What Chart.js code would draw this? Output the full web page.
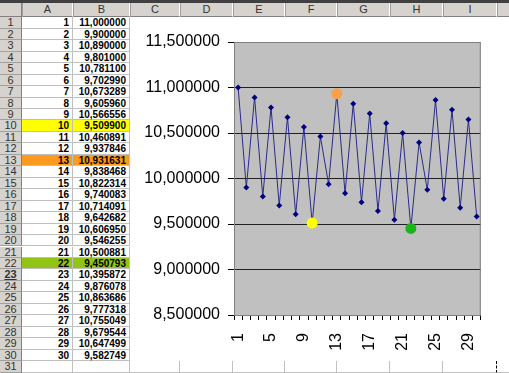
<!DOCTYPE html>
<html>
<head>
<meta charset="utf-8">
<script src="https://cdn.jsdelivr.net/npm/chart.js@4.4.0/dist/chart.umd.min.js"></script>
<style>
  html, body { margin: 0; padding: 0; background: #fff; overflow: hidden; }
  #sheet { position: relative; width: 509px; height: 373px; font-family: "Liberation Sans", Arial, sans-serif; }
  .hdr { position: absolute; background: #d6d3ce; color: #333; font-size: 11px; text-align: center; box-sizing: border-box; }
  .cell { position: absolute; box-sizing: border-box; border-right: 1px solid #c0c0c0; border-bottom: 1px solid #c0c0c0;
          font-size: 10px; font-weight: bold; text-align: right; padding-right: 3px; color: #000; }
  #chartBox { position: absolute; left: 130px; top: 17px; width: 379px; height: 343px; background: #fff; }
</style>
</head>
<body>
<div id="sheet">
  <div id="chartBox"><canvas id="grafico" width="379" height="343"></canvas></div>
</div>
<script>
// dados da planilha (coluna A = indice, coluna B = valor)
const indices = [1, 2, 3, 4, 5, 6, 7, 8, 9, 10, 11, 12, 13, 14, 15, 16, 17, 18, 19, 20,
                 21, 22, 23, 24, 25, 26, 27, 28, 29, 30];
const valores = [11.000000, 9.900000, 10.890000, 9.801000, 10.781100, 9.702990, 10.673289, 9.605960,
                 10.566556, 9.509900, 10.460891, 9.937846, 10.931631, 9.838468, 10.822314, 9.740083,
                 10.714091, 9.642682, 10.606950, 9.546255, 10.500881, 9.450793, 10.395872, 9.876078,
                 10.863686, 9.777318, 10.755049, 9.679544, 10.647499, 9.582749];
const linhasDestacadas = [10, 13, 22];
const colunas = ['A', 'B', 'C', 'D', 'E', 'F', 'G', 'H', 'I', 'J'];
const yTicks = [8.5, 9.0, 9.5, 10.0, 10.5, 11.0, 11.5];

// cores dos destaques (celula / ponto)
const corCelula = { 10: '#ffff00', 13: '#fa9a1e', 22: '#92c416' };
const corPonto  = { 10: '#ffff00', 13: '#f9a04a', 22: '#1db31d' };

const fmt = (v) => v.toFixed(6).replace('.', ',');

// --- planilha ---
const sheet = document.getElementById('sheet');
const colX = [22, 73, 130, 180, 233, 285, 337, 390, 443, 497, 550];
const rowTop = 17.3, rowH = 11.46;

function addDiv(cls, css, txt) {
    const d = document.createElement('div');
    d.className = cls;
    Object.assign(d.style, css);
    if (txt !== undefined) d.textContent = txt;
    sheet.insertBefore(d, document.getElementById('chartBox'));
    return d;
}

// barra escura do topo
addDiv('', { position: 'absolute', left: '0px', top: '0px', width: '509px', height: '3px', background: '#404040' });
// canto
addDiv('hdr', { left: '0px', top: '3px', width: '22px', height: (rowTop - 3) + 'px',
                borderRight: '1px solid #808080', borderBottom: '1px solid #808080' });
colunas.forEach((c, i) => {
    addDiv('hdr', { left: colX[i] + 'px', top: '3px', width: (colX[i + 1] - colX[i]) + 'px', height: (rowTop - 3) + 'px',
                    lineHeight: (rowTop - 4) + 'px', borderRight: '1px solid #fff', borderLeft: '1px solid #a0a0a0',
                    borderBottom: '1px solid #808080' }, c);
});

for (let r = 1; r <= 31; r++) {
    const top = rowTop + (r - 1) * rowH;
    const h = addDiv('hdr', { left: '0px', top: top + 'px', width: '22px', height: rowH + 'px', lineHeight: rowH + 'px',
                              borderRight: '1px solid #808080', borderBottom: '1px solid #a0a0a0', fontSize: '11px' }, String(r));
    if (r === 23) { h.style.fontWeight = 'bold'; h.style.textDecoration = 'underline'; }
    const i = r - 1;
    const bg = corCelula[r] || '#fff';
    for (let c = 0; c < colunas.length; c++) {
        if (c >= 2 && r <= 30) continue; // coberto pelo grafico
        const txt = (c === 0 && i < indices.length) ? String(indices[i])
                  : (c === 1 && i < valores.length) ? fmt(valores[i]) : '';
        addDiv('cell', { left: colX[c] + 'px', top: top + 'px', width: (colX[c + 1] - colX[c]) + 'px', height: rowH + 'px',
                         lineHeight: rowH + 'px', background: (c < 2 && linhasDestacadas.includes(r)) ? bg : '#fff',
                         borderRight: c === 8 ? '1px dashed #000' : '1px solid #c0c0c0' }, txt);
    }
}

// --- grafico ---
const fundoPlot = {
    id: 'fundoPlot',
    beforeDraw(chart) {
        const a = chart.chartArea, ctx = chart.ctx;
        ctx.save();
        ctx.fillStyle = '#c0c0c0';
        ctx.fillRect(a.left, a.top, a.right - a.left, a.bottom - a.top);
        ctx.restore();
    },
    beforeDatasetsDraw(chart) {
        const a = chart.chartArea, ctx = chart.ctx;
        ctx.save();
        ctx.strokeStyle = '#808080';
        ctx.lineWidth = 1;
        ctx.strokeRect(a.left + 0.5, a.top + 0.5, a.right - a.left - 1, a.bottom - a.top);
        ctx.restore();
    }
};

new Chart(document.getElementById('grafico'), {
    type: 'line',
    data: {
        labels: indices.map(String),
        datasets: [{
            data: valores,
            borderColor: '#2b2b8a',
            borderWidth: 1,
            tension: 0,
            pointStyle: (ctx) => linhasDestacadas.includes(ctx.dataIndex + 1) ? 'circle' : 'rectRot',
            pointRadius: (ctx) => linhasDestacadas.includes(ctx.dataIndex + 1) ? 5.5 : 3,
            pointBackgroundColor: (ctx) => corPonto[ctx.dataIndex + 1] || '#000080',
            pointBorderColor: (ctx) => corPonto[ctx.dataIndex + 1] || '#000080',
            pointBorderWidth: 0
        }]
    },
    options: {
        responsive: false,
        animation: false,
        devicePixelRatio: 1,
        layout: { padding: { top: 25, right: 8, left: 0, bottom: 0 } },
        plugins: { legend: { display: false }, tooltip: { enabled: false } },
        scales: {
            x: {
                offset: true,
                afterFit: (s) => { s.height = 45; },
                border: { color: '#000', width: 1 },
                grid: { offset: true, drawOnChartArea: false, drawTicks: true, tickLength: 5, color: '#000' },
                ticks: {
                    autoSkip: false,
                    minRotation: 90, maxRotation: 90,
                    padding: 13,
                    color: '#000',
                    font: { family: 'Liberation Sans', size: 16 },
                    callback: (v, i) => (i % 4 === 0 ? indices[i] : '')
                }
            },
            y: {
                min: yTicks[0],
                max: yTicks[yTicks.length - 1],
                afterFit: (s) => { s.width = 104; },
                afterBuildTicks: (s) => { s.ticks = yTicks.map(v => ({ value: v })); },
                border: { color: '#808080', width: 1 },
                grid: {
                    color: (ctx) => (ctx.tick && (ctx.tick.value === yTicks[0] || ctx.tick.value === yTicks[yTicks.length - 1])) ? 'rgba(0,0,0,0)' : '#202020',
                    tickColor: '#000',
                    tickLength: 6
                },
                ticks: {
                    padding: 8,
                    color: '#000',
                    font: { family: 'Liberation Sans', size: 16 },
                    callback: (v) => fmt(v)
                }
            }
        }
    },
    plugins: [fundoPlot]
});
</script>
</body>
</html>
